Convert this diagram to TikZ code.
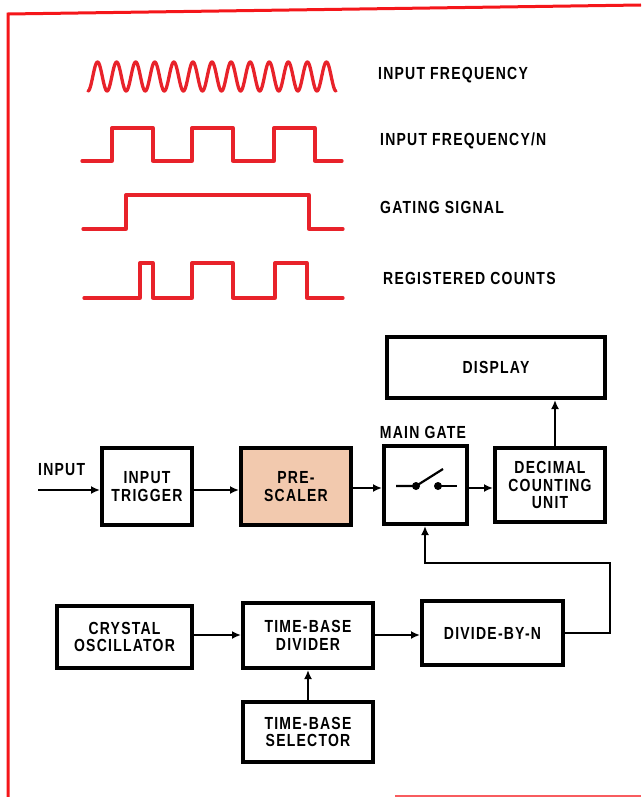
\documentclass[tikz,border=0pt]{standalone}
\usepackage{fontspec}
\setmainfont{Liberation Sans}[FakeStretch=0.8, LetterSpace=7]
\usetikzlibrary{arrows.meta}
\definecolor{wavered}{HTML}{E8222A}
\definecolor{borderred}{HTML}{F5161A}
\definecolor{peach}{HTML}{F2C9AE}
\tikzset{
  blk/.style={draw=black, line width=4pt, rectangle, align=center, inner sep=2pt,
    font=\fontsize{17.5}{17.5}\selectfont\bfseries},
  lbl/.style={font=\fontsize{17.5}{17.5}\selectfont\bfseries, inner sep=0pt},
  arr/.style={line width=2pt, -{Latex[length=9pt,width=8pt]}},
  con/.style={line width=2.2pt},
  wave/.style={draw=wavered, line width=3.3pt, line join=round, line cap=round},
}
\begin{document}
\begin{tikzpicture}[x=1pt,y=-1pt]
\useasboundingbox (0,0) rectangle (641,797);
% border
\draw[borderred, line width=3pt] (8,797) -- (8,14) -- (641,5);
\draw[borderred!70, line width=2pt] (395,796) -- (641,796);
% waveforms
\draw[wave] plot[domain=0:248, samples=500] ({\x+88}, {76.5+14.5*cos(18.871*\x)});
\draw[wave] (82,161) -- (112,161) -- (112,128) -- (153,128) -- (153,161) -- (192,161) -- (192,128) -- (233,128) -- (233,161) -- (274,161) -- (274,128) -- (315,128) -- (315,161) -- (342,161);
\draw[wave] (83,229) -- (126,229) -- (126,195) -- (309,195) -- (309,229) -- (343,229);
\draw[wave] (84,298) -- (140,298) -- (140,263) -- (153,263) -- (153,298) -- (192,298) -- (192,263) -- (233,263) -- (233,298) -- (275,298) -- (275,263) -- (307,263) -- (307,298) -- (343,298);
% wave labels
\node[lbl, anchor=west] (l1) at (378,75) {INPUT FREQUENCY};
\node[lbl, anchor=west] (l2) at (380,141) {INPUT FREQUENCY/N};
\node[lbl, anchor=west] (l3) at (380,207) {GATING SIGNAL};
\node[lbl, anchor=west] (l4) at (383,278) {REGISTERED COUNTS};
% blocks
\node[blk, minimum width=90, minimum height=77] (trig) at (147,486.5) {INPUT\\TRIGGER};
\node[blk, fill=peach, minimum width=110, minimum height=77] (pre) at (296,486.5) {PRE-\\SCALER};
\node[blk, minimum width=83, minimum height=78] (gate) at (425.5,485) {};
\node[blk, minimum width=110, minimum height=74] (dcu) at (550,485) {DECIMAL\\COUNTING\\UNIT};
\node[blk, minimum width=218, minimum height=61] (disp) at (496,367.5) {DISPLAY};
\node[blk, minimum width=135, minimum height=62] (xtal) at (124.5,637) {CRYSTAL\\OSCILLATOR};
\node[blk, minimum width=130, minimum height=65] (tbd) at (308,635.5) {TIME-BASE\\DIVIDER};
\node[blk, minimum width=141, minimum height=64] (dbn) at (492.5,633) {DIVIDE-BY-N};
\node[blk, minimum width=130, minimum height=60] (tbs) at (308,732) {TIME-BASE\\SELECTOR};
\node[lbl] (gl) at (423,432) {MAIN GATE};
\node[lbl, anchor=west] (inl) at (38,470) {INPUT};
% switch
\draw[con] (396,486) -- (416,486) -- (443,469);
\draw[con] (438,486) -- (457,486);
\fill (416,486) circle (4);
\fill (438,486) circle (4);
% connectors
\coordinate (in) at (38,490);
\draw[arr] (in) -- (in -| trig.west);
\draw[arr] (trig.east |- 0,490) -- (pre.west |- 0,490);
\draw[arr] (pre.east |- 0,488) -- (gate.west |- 0,488);
\draw[arr] (gate.east |- 0,488) -- (dcu.west |- 0,488);
\draw[arr] (dcu.north -| 555,0) -- (disp.south -| 555,0);
\draw[arr] (xtal.east |- 0,635) -- (tbd.west |- 0,635);
\draw[arr] (tbd.east |- 0,635) -- (dbn.west |- 0,635);
\draw[arr] (tbs.north) -- (tbd.south);
\coordinate (c1) at (610,563);
\coordinate (c2) at (425,563);
\draw[arr] (dbn.east) -- (dbn.east -| c1) -- (c1) -- (c2) -- (c2 |- gate.south);
\end{tikzpicture}
\end{document}
